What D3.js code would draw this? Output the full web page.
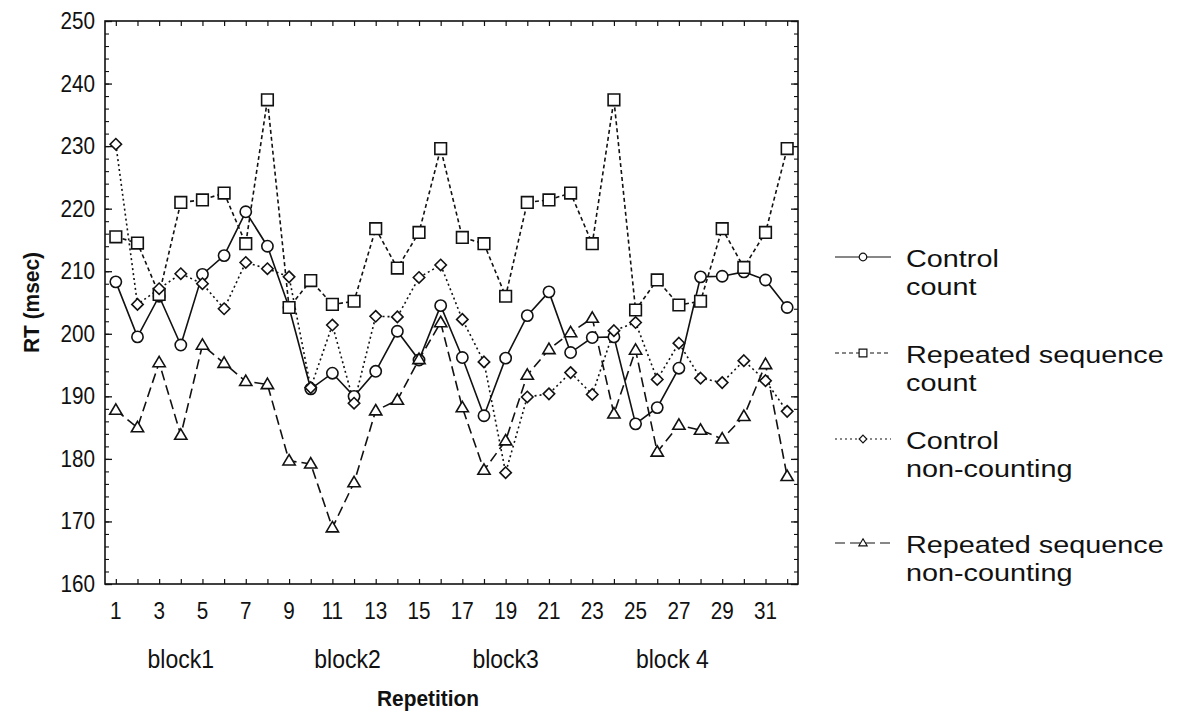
<!DOCTYPE html>
<html><head><meta charset="utf-8">
<script src="https://cdn.jsdelivr.net/npm/d3@7"></script>
<style>body{margin:0;background:#fff}svg text{font-family:"Liberation Sans",Arial,sans-serif;fill:#111}</style>
</head><body><svg id="c" width="1190" height="713"></svg>
<script>
const repetitions = d3.range(1, 33);
const tickLabels = d3.range(1, 32, 2);
const blockLabels = ["block1", "block2", "block3", "block 4"];
const blockCenters = [4, 11.7, 19, 26.7];
const controlCount = [208.3,199.5,206,198.2,209.5,212.5,219.5,214,204.2,191.2,193.7,190,194,200.4,195.8,204.5,196.2,186.9,196.1,202.9,206.7,197,199.4,199.5,185.6,188.2,194.5,209.1,209.2,209.9,208.6,204.2];
const repeatedCount = [215.5,214.5,206.3,221,221.4,222.5,214.4,237.4,204.2,208.5,204.7,205.2,216.8,210.5,216.2,229.6,215.4,214.4,206,221,221.4,222.5,214.4,237.4,203.8,208.6,204.6,205.2,216.8,210.6,216.2,229.6];
const controlNonCount = [230.3,204.7,207.2,209.6,208,204,211.4,210.4,209.1,191.4,201.4,188.9,202.8,202.7,209,211,202.3,195.5,177.8,189.9,190.4,193.8,190.3,200.5,201.8,192.7,198.5,192.9,192.2,195.7,192.5,187.6];
const repeatedNonCount = [187.8,185,195.4,183.8,198.2,195.3,192.4,191.9,179.7,179.2,169,176.2,187.7,189.4,195.9,201.8,188.2,178.2,182.9,193.4,197.5,200.2,202.5,187.2,197.4,181.1,185.4,184.6,183.2,186.8,195.1,177.2];
const seriesNames = [["Control","count"],["Repeated sequence","count"],["Control","non-counting"],["Repeated sequence","non-counting"]];
const yTicks = d3.range(160, 251, 10);

const symDiamond = { draw(ctx, size) { const r = Math.sqrt(size) / 2; ctx.moveTo(0, -r); ctx.lineTo(r, 0); ctx.lineTo(0, r); ctx.lineTo(-r, 0); ctx.closePath(); } };
const symTriangle = { draw(ctx, size) { const w = Math.sqrt(size) / 2, h = Math.sqrt(size) * 0.85; ctx.moveTo(0, -h * 0.6); ctx.lineTo(w, h * 0.4); ctx.lineTo(-w, h * 0.4); ctx.closePath(); } };

const series = [
  {vals: controlCount, sym: d3.symbolCircle, size: 100, dash: null},
  {vals: repeatedCount, sym: d3.symbolSquare, size: 135, dash: "4,3"},
  {vals: controlNonCount, sym: symDiamond, size: 130, dash: "2,3"},
  {vals: repeatedNonCount, sym: symTriangle, size: 150, dash: "10,5"}
];

const svg = d3.select("#c");
const L = 105, R = 798, T = 21, B = 584;
const x = d3.scaleLinear().domain([0.5, 32.5]).range([L, R]);
const y = d3.scaleLinear().domain([160, 250]).range([B, T]);

function txt(g, tx, ty, size, sx, anchor, s, bold, rot) {
  return g.append("text")
    .attr("transform", `translate(${tx},${ty})${rot ? " rotate(" + rot + ")" : ""} scale(${sx},1)`)
    .attr("text-anchor", anchor).attr("font-size", size)
    .attr("font-weight", bold ? "bold" : null).text(s);
}

svg.append("rect").attr("x", L).attr("y", T).attr("width", R - L).attr("height", B - T)
  .attr("fill", "none").attr("stroke", "#111").attr("stroke-width", 1.6);

function ticks(axisFn, pos, vals, size, w) {
  svg.append("g").attr("transform", pos).call(axisFn.tickValues(vals).tickSize(-size).tickFormat(""))
    .call(g => { g.select(".domain").remove(); g.selectAll("line").attr("stroke", "#111").attr("stroke-width", w); });
}
ticks(d3.axisBottom(x), `translate(0,${B})`, repetitions, 5, 1.2);
ticks(d3.axisTop(x), `translate(0,${T})`, repetitions, 5, 1.2);
ticks(d3.axisLeft(y), `translate(${L},0)`, d3.range(160, 251, 2), 4, 1.1);
ticks(d3.axisRight(y), `translate(${R},0)`, d3.range(160, 251, 2), 4, 1.1);
ticks(d3.axisLeft(y), `translate(${L},0)`, yTicks, 7, 1.3);
ticks(d3.axisRight(y), `translate(${R},0)`, yTicks, 7, 1.3);

const lab = svg.append("g");
yTicks.forEach(d => txt(lab, L - 10, y(d) + 8, 23, 0.9, "end", d));
tickLabels.forEach(d => txt(lab, x(d), 619, 23, 0.9, "middle", d));
blockLabels.forEach((d, i) => txt(lab, x(blockCenters[i]), 668, 25, 0.92, "middle", d));
txt(lab, 428, 706, 22, 0.95, "middle", "Repetition", true);
txt(lab, 39, (T + B) / 2, 22, 0.95, "middle", "RT (msec)", true, -90);

const line = d3.line().x((d, i) => x(repetitions[i])).y(d => y(d));
series.forEach(s => {
  svg.append("path").attr("d", line(s.vals)).attr("fill", "none").attr("stroke", "#111")
    .attr("stroke-width", 1.6).attr("stroke-dasharray", s.dash);
});
series.forEach(s => {
  svg.append("g").selectAll("path").data(s.vals).join("path")
    .attr("transform", (d, i) => `translate(${x(repetitions[i])},${y(d)})`)
    .attr("d", d3.symbol().type(s.sym).size(s.size))
    .attr("fill", "#fff").attr("stroke", "#111").attr("stroke-width", 1.6);
});

const legY = [257, 353, 439, 543];
const lg = svg.append("g");
series.forEach((s, i) => {
  const cy = legY[i];
  lg.append("line").attr("x1", 835).attr("x2", 891).attr("y1", cy).attr("y2", cy)
    .attr("stroke", "#111").attr("stroke-width", 1.2).attr("stroke-dasharray", s.dash);
  lg.append("path").attr("transform", `translate(863,${cy})`)
    .attr("d", d3.symbol().type(s.sym).size(s.size * 0.45))
    .attr("fill", "#fff").attr("stroke", "#111").attr("stroke-width", 1.2);
  txt(lg, 906, cy + 10, 24, 1.2, "start", seriesNames[i][0]);
  txt(lg, 906, cy + 38, 24, 1.2, "start", seriesNames[i][1]);
});
</script></body></html>
